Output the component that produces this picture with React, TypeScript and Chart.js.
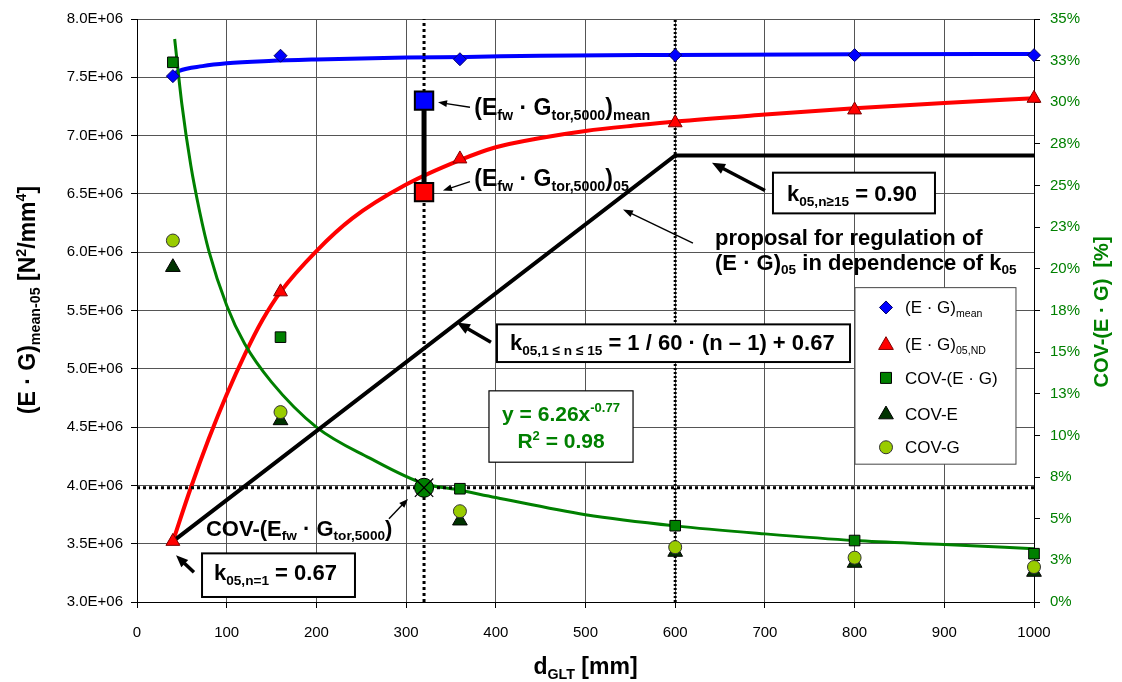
import React, { useEffect, useRef } from 'react';
import { Chart, registerables } from 'chart.js';
Chart.register(...registerables);

const FONT = '"Liberation Sans", Arial, Helvetica, sans-serif';

// ---------- data ----------
const dGLT = [40, 160, 360, 600, 800, 1000];
// (E·G) values in 10^6 N²/mm⁴
const egMean = [7.51, 7.685, 7.655, 7.69, 7.69, 7.69];
const eg05ND = [3.52, 5.66, 6.8, 7.11, 7.22, 7.32];
// COV values in %
const covEG = [32.4, 15.9, 6.8, 4.58, 3.69, 2.9];
const covE = [20.1, 10.9, 4.88, 3.0, 2.34, 1.8];
const covG = [21.7, 11.4, 5.45, 3.29, 2.66, 2.1];

// fitted curves
const meanFitX = [40, 47, 73, 100, 147, 200, 300, 367, 450, 600, 800, 1000];
const meanFitY = [7.524, 7.556, 7.596, 7.62, 7.64, 7.653, 7.67, 7.675, 7.685, 7.692, 7.698, 7.7];
const n05FitX = [40, 60, 80, 100, 120, 140, 160, 200, 240, 300, 360, 400, 450, 500, 560, 600, 700, 800, 900, 1000];
const n05FitY = [3.52, 3.98, 4.4, 4.78, 5.12, 5.42, 5.66, 6.01, 6.29, 6.58, 6.79, 6.9, 6.98, 7.04, 7.09, 7.12, 7.18, 7.235, 7.28, 7.32];
const covFitX = [42, 50, 60, 70, 80, 100, 120, 150, 200, 259, 320, 356, 400, 500, 600, 700, 800, 900, 1000];
const covFitY = [33.8, 29.9, 26.2, 23.4, 21.1, 17.8, 15.5, 13.2, 10.5, 8.65, 7.1, 6.75, 6.27, 5.24, 4.57, 4.09, 3.69, 3.45, 3.2];

// proposal for regulation (k05 line)
const proposalX = [40, 600, 1000];
const proposalY = [3.52, 6.83, 6.83];

// reference values at d = 320 mm
const refX = [320];
const refMean = [7.3];
const ref05 = [6.515];
const refCov = [3.98];

// reference helper lines
const v320X = [320, 320];
const v600X = [600, 600];
const vLineY = [3.0, 8.0];
const hLineX = [0, 1000];
const hLineY = [3.98, 3.98];

// tick labels
const xTickLabels = ['0', '100', '200', '300', '400', '500', '600', '700', '800', '900', '1000'];
const leftTickLabels = ['3.0E+06', '3.5E+06', '4.0E+06', '4.5E+06', '5.0E+06', '5.5E+06', '6.0E+06', '6.5E+06', '7.0E+06', '7.5E+06', '8.0E+06'];
const rightTickLabels = ['0%', '3%', '5%', '8%', '10%', '13%', '15%', '18%', '20%', '23%', '25%', '28%', '30%', '33%', '35%'];

// ---------- drawing helpers ----------
type Seg = { t: string; s?: 'sub' | 'sup' };

function richWidth(ctx: CanvasRenderingContext2D, segs: Seg[], size: number, bold: boolean) {
  let w = 0;
  for (const s of segs) {
    const fs = s.s ? size * 0.62 : size;
    ctx.font = `${bold ? 'bold ' : ''}${fs}px ${FONT}`;
    w += ctx.measureText(s.t).width;
  }
  return w;
}

function drawRich(
  ctx: CanvasRenderingContext2D,
  segs: Seg[],
  x: number,
  y: number,
  size: number,
  color: string,
  bold = true,
  align: 'left' | 'center' = 'left'
) {
  ctx.save();
  ctx.fillStyle = color;
  ctx.textBaseline = 'alphabetic';
  ctx.textAlign = 'left';
  let cx = x;
  if (align === 'center') cx = x - richWidth(ctx, segs, size, bold) / 2;
  for (const s of segs) {
    const fs = s.s ? size * 0.62 : size;
    ctx.font = `${bold ? 'bold ' : ''}${fs}px ${FONT}`;
    const dy = s.s === 'sub' ? size * 0.22 : s.s === 'sup' ? -size * 0.4 : 0;
    ctx.fillText(s.t, cx, y + dy);
    cx += ctx.measureText(s.t).width;
  }
  ctx.restore();
}

function arrow(ctx: CanvasRenderingContext2D, x1: number, y1: number, x2: number, y2: number, lw: number, hl: number, hw: number) {
  const a = Math.atan2(y2 - y1, x2 - x1);
  const bx = x2 - hl * Math.cos(a);
  const by = y2 - hl * Math.sin(a);
  ctx.save();
  ctx.strokeStyle = '#000';
  ctx.fillStyle = '#000';
  ctx.lineWidth = lw;
  ctx.beginPath();
  ctx.moveTo(x1, y1);
  ctx.lineTo(bx + 0.5 * Math.cos(a), by + 0.5 * Math.sin(a));
  ctx.stroke();
  ctx.beginPath();
  ctx.moveTo(x2, y2);
  ctx.lineTo(bx + (hw / 2) * Math.sin(a), by - (hw / 2) * Math.cos(a));
  ctx.lineTo(bx - (hw / 2) * Math.sin(a), by + (hw / 2) * Math.cos(a));
  ctx.closePath();
  ctx.fill();
  ctx.restore();
}

function box(ctx: CanvasRenderingContext2D, x1: number, y1: number, x2: number, y2: number, lw: number, color = '#000') {
  ctx.save();
  ctx.fillStyle = '#fff';
  ctx.fillRect(x1, y1, x2 - x1, y2 - y1);
  ctx.strokeStyle = color;
  ctx.lineWidth = lw;
  ctx.strokeRect(x1, y1, x2 - x1, y2 - y1);
  ctx.restore();
}

function marker(ctx: CanvasRenderingContext2D, kind: string, x: number, y: number, fill: string, stroke: string) {
  ctx.save();
  ctx.fillStyle = fill;
  ctx.strokeStyle = stroke;
  ctx.lineWidth = 1;
  ctx.beginPath();
  if (kind === 'diamond') {
    const r = 6.5;
    ctx.moveTo(x, y - r); ctx.lineTo(x + r, y); ctx.lineTo(x, y + r); ctx.lineTo(x - r, y); ctx.closePath();
  } else if (kind === 'triangle') {
    const r = 8.5;
    ctx.moveTo(x, y - r);
    ctx.lineTo(x + r * Math.sin((2 * Math.PI) / 3), y - r * Math.cos((2 * Math.PI) / 3));
    ctx.lineTo(x + r * Math.sin((4 * Math.PI) / 3), y - r * Math.cos((4 * Math.PI) / 3));
    ctx.closePath();
  } else if (kind === 'square') {
    ctx.rect(x - 5.5, y - 5.5, 11, 11);
  } else {
    ctx.arc(x, y, 6.5, 0, Math.PI * 2);
  }
  ctx.fill();
  ctx.stroke();
  ctx.restore();
}

const overlayPlugin = {
  id: 'overlay',
  afterDatasetsDraw(chart: any) {
    const ctx: CanvasRenderingContext2D = chart.ctx;
    const xs = chart.scales.x;
    const ys = chart.scales.y;
    const X = (v: number) => xs.getPixelForValue(v);
    const Y = (v: number) => ys.getPixelForValue(v);
    const F = 22;

    // (E_fw · G_tor,5000)_mean
    drawRich(ctx, [{ t: '(E' }, { t: 'fw', s: 'sub' }, { t: ' · G' }, { t: 'tor,5000', s: 'sub' }, { t: ')' }, { t: 'mean', s: 'sub' }], X(376), Y(7.18), 23, '#000');
    arrow(ctx, X(371.2), Y(7.243), X(335.6), Y(7.286), 1.4, 9, 7);
    // (E_fw · G_tor,5000)_05
    drawRich(ctx, [{ t: '(E' }, { t: 'fw', s: 'sub' }, { t: ' · G' }, { t: 'tor,5000', s: 'sub' }, { t: ')' }, { t: '05', s: 'sub' }], X(376), Y(6.571), 23, '#000');
    arrow(ctx, X(371.2), Y(6.605), X(341.1), Y(6.529), 1.4, 9, 7);

    // k05,n>=15 box
    box(ctx, X(709), Y(6.682), X(889.6), Y(6.333), 2);
    drawRich(ctx, [{ t: 'k' }, { t: '05,n≥15', s: 'sub' }, { t: ' = 0.90' }], X(724.6), Y(6.435), F, '#000');
    arrow(ctx, X(700.1), Y(6.529), X(641), Y(6.767), 3.5, 13, 11);

    // proposal text
    drawRich(ctx, [{ t: 'proposal for regulation of' }], X(644.4), Y(6.064), F, '#000');
    drawRich(ctx, [{ t: '(E · G)' }, { t: '05', s: 'sub' }, { t: ' in dependence of k' }, { t: '05', s: 'sub' }], X(644.4), Y(5.851), F, '#000');
    arrow(ctx, X(619.8), Y(6.078), X(541.8), Y(6.367), 1.4, 10, 7);

    // k05,1<=n<=15 box
    box(ctx, X(401.3), Y(5.381), X(794.9), Y(5.058), 2);
    drawRich(ctx, [{ t: 'k' }, { t: '05,1 ≤ n ≤ 15', s: 'sub' }, { t: ' = 1 / 60 · (n – 1) + 0.67' }], X(415.8), Y(5.157), F, '#000');
    arrow(ctx, X(394.6), Y(5.228), X(356.7), Y(5.398), 3.5, 13, 11);

    // regression box
    box(ctx, X(392.4), Y(4.811), X(553), Y(4.199), 1.2);
    drawRich(ctx, [{ t: 'y = 6.26x' }, { t: '-0.77', s: 'sup' }], X(472.7), Y(4.554), 21, '#008000', true, 'center');
    drawRich(ctx, [{ t: 'R' }, { t: '2', s: 'sup' }, { t: ' = 0.98' }], X(472.7), Y(4.321), 21, '#008000', true, 'center');

    // COV-(E_fw · G_tor,5000)
    drawRich(ctx, [{ t: 'COV-(E' }, { t: 'fw', s: 'sub' }, { t: ' · G' }, { t: 'tor,5000', s: 'sub' }, { t: ')' }], X(76.9), Y(3.57), F, '#000');
    arrow(ctx, X(280.9), Y(3.714), X(302.1), Y(3.884), 1.4, 9, 7);

    // k05,n=1 box
    box(ctx, X(72.5), Y(3.417), X(243), Y(3.043), 2);
    drawRich(ctx, [{ t: 'k' }, { t: '05,n=1', s: 'sub' }, { t: ' = 0.67' }], X(85.8), Y(3.187), F, '#000');
    arrow(ctx, X(63.5), Y(3.255), X(43.5), Y(3.4), 3.5, 12, 10);

    // legend
    box(ctx, X(800.4), Y(5.696), X(979.9), Y(4.182), 1, '#444');
    const mx = X(835);
    const tx = X(856.2);
    const rows = [5.526, 5.211, 4.922, 4.616, 4.327].map(Y);
    const lf = 17;
    marker(ctx, 'diamond', mx, rows[0], '#0000ff', '#000066');
    drawRich(ctx, [{ t: '(E · G)' }, { t: 'mean', s: 'sub' }], tx, rows[0] + 6, lf, '#000', false);
    marker(ctx, 'triangle', mx, rows[1] + 1, '#ff0000', '#800000');
    drawRich(ctx, [{ t: '(E · G)' }, { t: '05,ND', s: 'sub' }], tx, rows[1] + 6, lf, '#000', false);
    marker(ctx, 'square', mx, rows[2], '#008000', '#000');
    drawRich(ctx, [{ t: 'COV-(E · G)' }], tx, rows[2] + 6, lf, '#000', false);
    marker(ctx, 'triangle', mx, rows[3] + 1, '#003300', '#000');
    drawRich(ctx, [{ t: 'COV-E' }], tx, rows[3] + 6, lf, '#000', false);
    marker(ctx, 'circle', mx, rows[4], '#99cc00', '#333');
    drawRich(ctx, [{ t: 'COV-G' }], tx, rows[4] + 6, lf, '#000', false);
  },
  afterDraw(chart: any) {
    const ctx: CanvasRenderingContext2D = chart.ctx;
    const a = chart.chartArea;
    // left title
    ctx.save();
    ctx.translate(a.left - 110, 300);
    ctx.rotate(-Math.PI / 2);
    drawRich(ctx, [{ t: '(E · G)' }, { t: 'mean-05', s: 'sub' }, { t: ' [N' }, { t: '2', s: 'sup' }, { t: '/mm' }, { t: '4', s: 'sup' }, { t: ']' }], 0, 8, 23, '#000', true, 'center');
    ctx.restore();
    // right title
    ctx.save();
    ctx.translate(a.right + 67, 312);
    ctx.rotate(-Math.PI / 2);
    drawRich(ctx, [{ t: 'COV-(E · G)  [%]' }], 0, 7, 20, '#008000', true, 'center');
    ctx.restore();
    // x title
    drawRich(ctx, [{ t: 'd' }, { t: 'GLT', s: 'sub' }, { t: ' [mm]' }], (a.left + a.right) / 2, a.bottom + 72, 23, '#000', true, 'center');
  },
};

const pts = (xs: number[], ys: number[]) => xs.map((x, i) => ({ x, y: ys[i] }));

export default function App() {
  const ref = useRef<HTMLCanvasElement>(null);
  useEffect(() => {
    document.body.style.margin = '0';
    const canvas = ref.current!;
    Chart.defaults.font.family = FONT;
    const lineDs = (data: any, color: string, width: number, order: number, extra: any = {}) => ({
      data,
      showLine: true,
      borderColor: color,
      backgroundColor: color,
      borderWidth: width,
      pointRadius: 0,
      pointHoverRadius: 0,
      order,
      ...extra,
    });
    const chart = new Chart(canvas, {
      type: 'scatter',
      data: {
        datasets: [
          { label: 'covRefX', data: pts(refX, refCov), pointStyle: 'crossRot', pointRadius: 13, borderColor: '#000', borderWidth: 1.2, backgroundColor: 'transparent', order: 0 },
          { label: 'covRef', data: pts(refX, refCov), pointStyle: 'circle', pointRadius: 9.5, backgroundColor: '#008000', borderColor: '#000', borderWidth: 1, order: 1 },
          { label: 'refMean', data: pts(refX, refMean), pointStyle: 'rect', pointRadius: 13, backgroundColor: '#0000ff', borderColor: '#000', borderWidth: 2, order: 2 },
          { label: 'ref05', data: pts(refX, ref05), pointStyle: 'rect', pointRadius: 13, backgroundColor: '#ff0000', borderColor: '#000', borderWidth: 2, order: 2 },
          { label: 'COV-G', data: pts(dGLT, covG), yAxisID: 'y2', pointStyle: 'circle', pointRadius: 6.5, backgroundColor: '#99cc00', borderColor: '#333', borderWidth: 1, order: 3, clip: false },
          { label: 'COV-E', data: pts(dGLT, covE), yAxisID: 'y2', pointStyle: 'triangle', pointRadius: 8.5, backgroundColor: '#003300', borderColor: '#000', borderWidth: 1, order: 4, clip: false },
          { label: 'COV-(E·G)', data: pts(dGLT, covEG), yAxisID: 'y2', pointStyle: 'rect', pointRadius: 7.5, backgroundColor: '#008000', borderColor: '#000', borderWidth: 1, order: 5, clip: false },
          { label: '(E·G)05,ND', data: pts(dGLT, eg05ND), pointStyle: 'triangle', pointRadius: 8, backgroundColor: '#ff0000', borderColor: '#800000', borderWidth: 1, order: 6, clip: false },
          { label: '(E·G)mean', data: pts(dGLT, egMean), pointStyle: 'rectRot', pointRadius: 6.5, backgroundColor: '#0000ff', borderColor: '#000066', borderWidth: 1, order: 7, clip: false },
          lineDs(pts([refX[0], refX[0]], [refMean[0], ref05[0]]), '#000', 5, 8),
          lineDs(pts(v320X, vLineY), '#000', 3, 9, { borderDash: [3, 3] }),
          lineDs(pts(v600X, vLineY), '#000', 3, 9, { borderDash: [2, 2] }),
          lineDs(pts(hLineX, hLineY), '#000', 3, 9, { borderDash: [3, 3] }),
          lineDs(pts(proposalX, proposalY), '#000', 4, 10),
          lineDs(pts(covFitX, covFitY), '#008000', 3, 11, { yAxisID: 'y2', cubicInterpolationMode: 'monotone' }),
          lineDs(pts(n05FitX, n05FitY), '#ff0000', 4, 12, { cubicInterpolationMode: 'monotone' }),
          lineDs(pts(meanFitX, meanFitY), '#0000ff', 4, 13, { cubicInterpolationMode: 'monotone' }),
        ] as any,
      },
      options: {
        animation: false,
        responsive: false,
        devicePixelRatio: 1,
        events: [],
        layout: { padding: { top: 14, left: 0, right: 0, bottom: 0 } },
        plugins: { legend: { display: false }, tooltip: { enabled: false } },
        scales: {
          x: {
            type: 'linear',
            position: 'bottom',
            min: 0,
            max: 1000,
            ticks: {
              stepSize: 100,
              color: '#000',
              font: { size: 15, family: FONT },
              padding: 16,
              maxRotation: 0,
              autoSkip: false,
              callback: (v: any) => xTickLabels[Math.round(Number(v) / 100)],
            },
            grid: { color: '#555', lineWidth: 1, tickLength: 6, tickColor: '#000' },
            border: { color: '#000', width: 1 },
            afterFit: (s: any) => { s.height = 80; },
          },
          y: {
            type: 'linear',
            position: 'left',
            min: 3,
            max: 8,
            ticks: {
              stepSize: 0.5,
              color: '#000',
              font: { size: 15, family: FONT },
              padding: 8,
              callback: (v: any) => leftTickLabels[Math.round((Number(v) - 3) / 0.5)],
            },
            grid: { color: '#555', lineWidth: 1, tickLength: 6, tickColor: '#000' },
            border: { color: '#000', width: 1 },
            afterFit: (s: any) => { s.width = 137; },
          },
          y2: {
            type: 'linear',
            position: 'right',
            min: 0,
            max: 35,
            ticks: {
              stepSize: 2.5,
              color: '#008000',
              font: { size: 15, family: FONT },
              padding: 10,
              callback: (v: any) => rightTickLabels[Math.round(Number(v) / 2.5)],
            },
            grid: { drawOnChartArea: false, tickLength: 6, tickColor: '#000' },
            border: { color: '#000', width: 1 },
            afterFit: (s: any) => { s.width = 88; },
          },
        },
      } as any,
      plugins: [overlayPlugin],
    });
    return () => chart.destroy();
  }, []);
  return (
    <div style={{ width: 1122, height: 682, background: '#fff' }}>
      <canvas ref={ref} width={1122} height={682} style={{ display: 'block' }} />
    </div>
  );
}
